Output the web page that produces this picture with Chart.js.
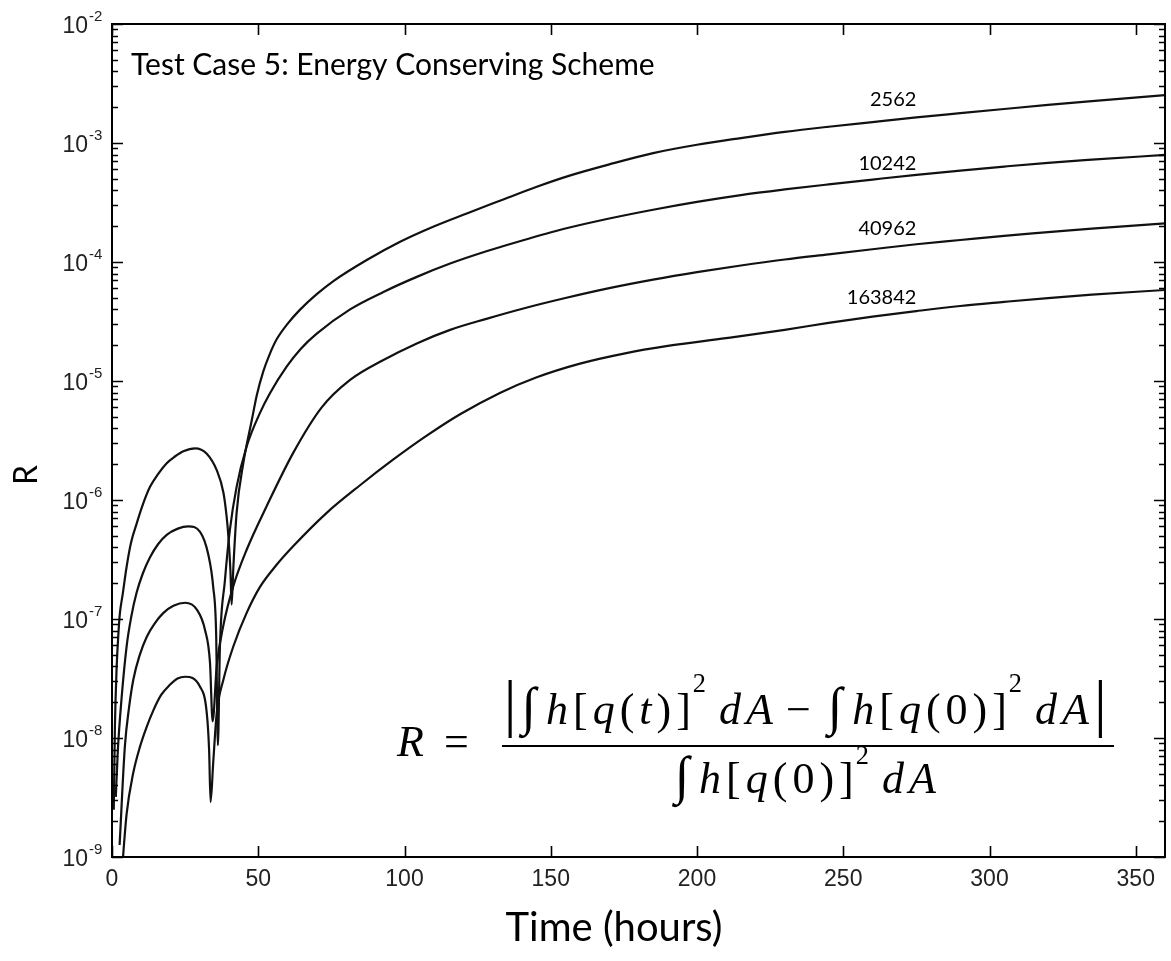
<!DOCTYPE html>
<html>
<head>
<meta charset="utf-8">
<title>Test Case 5: Energy Conserving Scheme</title>
<script src="https://cdn.jsdelivr.net/npm/chart.js@4.4.1/dist/chart.umd.min.js"></script>
<style>
  html, body { margin: 0; padding: 0; background: #fff; }
  #wrap { position: relative; width: 1171px; height: 961px; }
  #formula {
    position: absolute; left: 397px; top: 675px;
    display: flex; align-items: center;
    font-family: "Liberation Serif", "DejaVu Serif", serif; font-size: 44px; color: #000;
  }
  #formula .eq { margin: 0 33px 0 20px; }
  #formula .frac { display: inline-flex; flex-direction: column; align-items: center; }
  #formula .num, #formula .den { white-space: nowrap; padding: 0 2px; letter-spacing: 5px; }
  #formula .num { line-height: 62px; padding-bottom: 4px; border-bottom: 2px solid #000; }
  #formula .den { line-height: 56px; }
  #formula sup { font-size: 0.6em; position: relative; top: -0.2em; left: -3px; vertical-align: top; line-height: 1; letter-spacing: 0; }
  #formula .int { font-size: 1.2em; margin-right: 5px; }
  #formula .bar { font-size: 1.45em; line-height: 0; }
  #formula .gap { margin-left: 10px; }
  #formula .op { margin: 0 12px 0 8px; }
</style>
</head>
<body>
<div id="wrap">
  <canvas id="chart"></canvas>
  <div id="formula">
    <i>R</i><span class="eq">=</span>
    <span class="frac">
      <span class="num"><span class="bar">|</span><span class="int">∫</span><i>h</i>[<i>q</i>(<i>t</i>)]<sup>2</sup><i class="gap">dA</i><span class="op">−</span><span class="int">∫</span><i>h</i>[<i>q</i>(0)]<sup>2</sup><i class="gap">dA</i><span class="bar">|</span></span>
      <span class="den"><span class="int">∫</span><i>h</i>[<i>q</i>(0)]<sup>2</sup><i class="gap">dA</i></span>
    </span>
  </div>
</div>
<script>
// time (hours) and relative energy error R for each grid resolution
const tA = [0.6, 1.0, 1.6, 2.2, 2.7, 3.6, 5.0, 6.5, 8.4, 10.5, 13.0, 15.8, 18.7, 21.5, 24.4, 28.4, 32.4, 35.8, 38.1, 39.2, 39.8, 40.5, 40.9, 41.5, 42.6, 44.9, 47.8, 49.5, 51.7, 54.0, 56.3, 60.0, 64.3, 70.0, 75.7, 87.1, 98.5, 109.8, 121.3, 132.6, 145, 157, 170, 185, 200, 215, 230, 245, 260, 275, 290, 305, 320, 335, 360];
const r2562 = [2.5e-9, 1.26e-8, 3.98e-8, 7.6e-8, 1.12e-7, 1.58e-7, 2.75e-7, 4.37e-7, 6.3e-7, 9.1e-7, 1.29e-6, 1.66e-6, 2.04e-6, 2.32e-6, 2.57e-6, 2.72e-6, 2.45e-6, 1.78e-6, 1.15e-6, 7.2e-7, 4.9e-7, 2.5e-7, 1.32e-7, 2.75e-7, 7.8e-7, 2.04e-6, 4.7e-6, 7.6e-6, 1.2e-5, 1.7e-5, 2.24e-5, 3.02e-5, 3.98e-5, 5.37e-5, 6.92e-5, 1.04e-4, 1.48e-4, 1.98e-4, 2.56e-4, 3.27e-4, 4.27e-4, 5.37e-4, 6.61e-4, 8.22e-4, 9.66e-4, 1.10e-3, 1.24e-3, 1.37e-3, 1.50e-3, 1.64e-3, 1.78e-3, 1.93e-3, 2.09e-3, 2.25e-3, 2.53e-3];

const tB = [1.3, 2.0, 3.3, 5.0, 6.6, 8.4, 10.5, 13.0, 15.8, 18.7, 22.5, 26.1, 30.1, 32.9, 34.6, 35.6, 36.2, 36.9, 38.6, 40.3, 42.6, 46.0, 50.6, 54.0, 59.7, 64.5, 70.0, 81.4, 92.8, 104.2, 115.6, 128, 140, 155, 170, 185, 200, 215, 230, 245, 260, 275, 290, 305, 320, 335, 360];
const r10242 = [3.2e-9, 7.9e-9, 2.2e-8, 5.9e-8, 1.05e-7, 1.66e-7, 2.4e-7, 3.3e-7, 4.27e-7, 5.1e-7, 5.75e-7, 6.0e-7, 5.4e-7, 3.5e-7, 1.86e-7, 7.6e-8, 8.7e-9, 5.9e-8, 2.1e-7, 5.6e-7, 1.29e-6, 2.8e-6, 5.4e-6, 7.9e-6, 1.32e-5, 1.86e-5, 2.5e-5, 4.0e-5, 5.6e-5, 7.5e-5, 9.7e-5, 1.23e-4, 1.51e-4, 1.91e-4, 2.32e-4, 2.75e-4, 3.2e-4, 3.65e-4, 4.07e-4, 4.49e-4, 4.93e-4, 5.4e-4, 5.86e-4, 6.34e-4, 6.82e-4, 7.24e-4, 7.94e-4];

const tC = [2.6, 4.4, 5.8, 7.3, 9.5, 11.9, 14.5, 17.5, 21.0, 25.0, 29.0, 31.8, 33.5, 34.4, 35.8, 38.1, 41.5, 46.0, 52.9, 62.0, 71.7, 81.4, 92.8, 104.2, 115.6, 128, 140, 155, 170, 185, 200, 215, 230, 245, 260, 275, 290, 305, 320, 335, 360];
const r40962 = [1.26e-9, 8.5e-9, 1.78e-8, 3.1e-8, 5.0e-8, 7.1e-8, 9.1e-8, 1.12e-7, 1.29e-7, 1.37e-7, 1.2e-7, 8.1e-8, 4.3e-8, 1.38e-8, 4.0e-8, 8.9e-8, 1.9e-7, 3.8e-7, 8.9e-7, 2.5e-6, 6.0e-6, 1.02e-5, 1.5e-5, 2.07e-5, 2.69e-5, 3.33e-5, 4.03e-5, 4.98e-5, 6.03e-5, 7.11e-5, 8.22e-5, 9.35e-5, 1.05e-4, 1.16e-4, 1.28e-4, 1.41e-4, 1.53e-4, 1.66e-4, 1.78e-4, 1.91e-4, 2.11e-4];

const tD = [3.0, 5.0, 7.2, 9.6, 11.8, 14.1, 16.8, 19.8, 22.4, 25.0, 30.1, 32.4, 33.2, 33.7, 34.6, 35.8, 38.1, 41.5, 46.0, 50.6, 56.0, 62.0, 73.4, 84.8, 96.2, 107.6, 119.0, 132.6, 145, 160, 175, 190, 209.9, 230, 245, 260, 275, 290, 305, 320, 335, 360];
const r163842 = [5.6e-10, 2.3e-9, 5.0e-9, 8.5e-9, 1.23e-8, 1.7e-8, 2.3e-8, 2.8e-8, 3.16e-8, 3.27e-8, 2.7e-8, 1.62e-8, 7.9e-9, 2.9e-9, 6.2e-9, 1.62e-8, 3.1e-8, 5.9e-8, 1.12e-7, 1.86e-7, 2.8e-7, 4.1e-7, 7.8e-7, 1.33e-6, 2.19e-6, 3.47e-6, 5.25e-6, 7.94e-6, 1.07e-5, 1.40e-5, 1.70e-5, 1.97e-5, 2.29e-5, 2.69e-5, 3.08e-5, 3.48e-5, 3.87e-5, 4.27e-5, 4.62e-5, 4.98e-5, 5.32e-5, 5.82e-5];

const gridNames = ["2562", "10242", "40962", "163842"];
const xTickValues = [0, 50, 100, 150, 200, 250, 300, 350];
const yTickExponents = [-9, -8, -7, -6, -5, -4, -3, -2];

// where each resolution's name sits (time of right edge, R at baseline)
const nameSpots = [[275, 2.05e-3], [275, 5.9e-4], [275, 1.69e-4], [275, 4.4e-5]];

const pairs = (t, r) => t.map((v, i) => ({ x: v, y: r[i] }));

function lineSet(label, t, r) {
  return {
    label,
    data: pairs(t, r),
    borderColor: "#111",
    borderWidth: 2.2,
    pointRadius: 0,
    cubicInterpolationMode: "monotone",
    fill: false,
  };
}

// box, inward ticks, decade labels and the text inside and around the plot
const frameTicks = {
  id: "frameTicks",
  afterDraw(chart) {
    const { ctx, chartArea: a, scales: { x, y } } = chart;
    ctx.save();
    ctx.strokeStyle = "#000";
    ctx.lineWidth = 2;
    ctx.strokeRect(a.left, a.top, a.right - a.left, a.bottom - a.top);

    ctx.lineWidth = 1.6;
    ctx.beginPath();
    xTickValues.forEach((v) => {
      const px = Math.round(x.getPixelForValue(v)) + 0.5;
      ctx.moveTo(px, a.bottom); ctx.lineTo(px, a.bottom - 11);
      ctx.moveTo(px, a.top); ctx.lineTo(px, a.top + 11);
    });
    yTickExponents.forEach((e) => {
      for (let m = 1; m <= 9; m++) {
        if (e === -2 && m > 1) break;
        const py = Math.round(y.getPixelForValue(m * Math.pow(10, e))) + 0.5;
        const len = m === 1 ? 11 : 6;
        ctx.moveTo(a.left, py); ctx.lineTo(a.left + len, py);
        ctx.moveTo(a.right, py); ctx.lineTo(a.right - len, py);
      }
    });
    ctx.stroke();

    ctx.fillStyle = "#222";
    yTickExponents.forEach((e) => {
      const py = y.getPixelForValue(Math.pow(10, e));
      ctx.font = '23px "Liberation Sans", Arial, sans-serif';
      ctx.textAlign = "right";
      ctx.textBaseline = "alphabetic";
      ctx.fillText("10", a.left - 24, py + 9);
      ctx.font = '15px "Liberation Sans", Arial, sans-serif';
      ctx.textAlign = "left";
      ctx.fillText(String(e), a.left - 23, py - 3);
    });

    // axis names
    ctx.fillStyle = "#000";
    ctx.save();
    ctx.translate(27, 475);
    ctx.rotate(-Math.PI / 2);
    ctx.font = '32px Lato, "Open Sans", sans-serif';
    ctx.textAlign = "center";
    ctx.textBaseline = "middle";
    ctx.fillText("R", 0, 0);
    ctx.restore();

    ctx.font = '40px Lato, "Open Sans", sans-serif';
    ctx.textAlign = "center";
    ctx.textBaseline = "alphabetic";
    ctx.fillText("Time (hours)", 614, 941);

    ctx.textAlign = "left";
    ctx.font = '30px Lato, "Open Sans", sans-serif';
    ctx.fillText("Test Case 5: Energy Conserving Scheme", a.left + 19, a.top + 51);

    ctx.font = '20px Lato, "Open Sans", sans-serif';
    ctx.textAlign = "right";
    gridNames.forEach((name, i) => {
      const [t, r] = nameSpots[i];
      ctx.fillText(name, x.getPixelForValue(t), y.getPixelForValue(r));
    });
    ctx.restore();
  },
};

new Chart(document.getElementById("chart"), {
  type: "line",
  data: {
    datasets: [
      lineSet(gridNames[0], tA, r2562),
      lineSet(gridNames[1], tB, r10242),
      lineSet(gridNames[2], tC, r40962),
      lineSet(gridNames[3], tD, r163842),
    ],
  },
  options: {
    responsive: true,
    maintainAspectRatio: false,
    animation: false,
    layout: { padding: { top: 24, right: 6, left: 0, bottom: 0 } },
    plugins: { legend: { display: false }, tooltip: { enabled: false } },
    scales: {
      x: {
        type: "linear",
        position: "bottom",
        min: 0,
        max: 360,
        afterBuildTicks: (s) => { s.ticks = xTickValues.map((v) => ({ value: v })); },
        afterFit: (s) => { s.height = 104; },
        grid: { display: false, drawTicks: false },
        border: { display: false },
        ticks: {
          color: "#222",
          padding: 9,
          maxRotation: 0,
          font: { family: '"Liberation Sans", Arial, sans-serif', size: 23 },
        },
      },
      y: {
        type: "logarithmic",
        min: 1e-9,
        max: 1e-2,
        afterFit: (s) => { s.width = 112; },
        grid: { display: false, drawTicks: false },
        border: { display: false },
        ticks: { display: false },
      },
    },
  },
  plugins: [frameTicks],
});
</script>
</body>
</html>
